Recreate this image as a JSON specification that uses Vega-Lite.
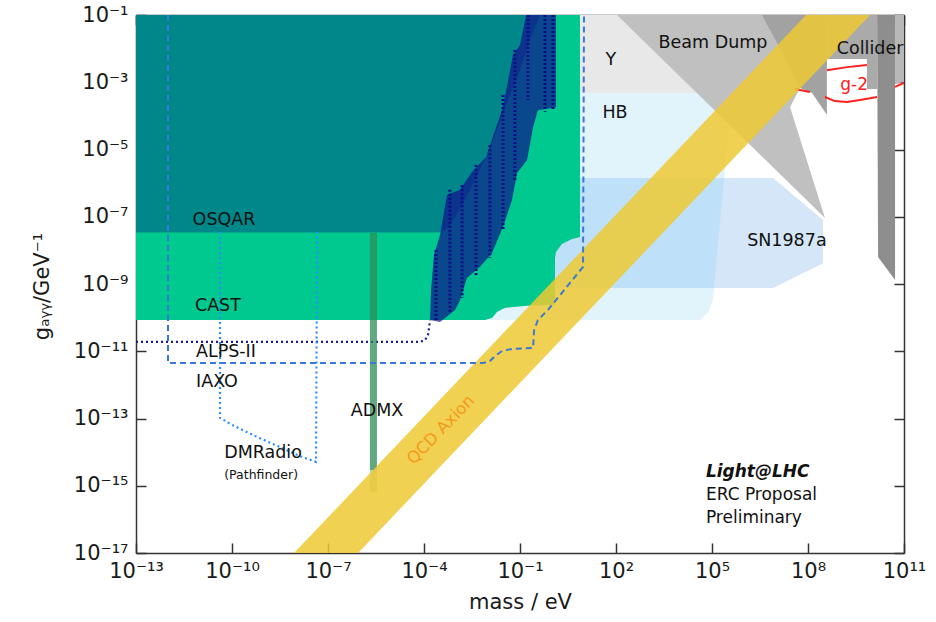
{
  "$schema": "https://vega.github.io/schema/vega-lite/v6.json",
  "width": 768,
  "height": 538,
  "autosize": {"type": "none"},
  "padding": {"left": 136, "top": 15, "right": 32, "bottom": 69},
  "background": "white",
  "config": {
    "view": {"stroke": null},
    "font": "DejaVu Sans",
    "axis": {
      "grid": false,
      "zindex": 1,
      "domainColor": "#333333",
      "domainWidth": 1.5,
      "tickColor": "#333333",
      "tickWidth": 1.5,
      "tickSize": -10,
      "labelFont": "DejaVu Sans",
      "labelFontSize": 21,
      "labelColor": "#1a1a1a",
      "titleFont": "DejaVu Sans",
      "titleFontSize": 21,
      "titleFontWeight": "normal",
      "titleColor": "#1a1a1a",
      "labelFlush": false,
      "labelOverlap": false,
      "labelBound": false
    }
  },
  "datasets": {
    "shapes": [
      {"s": "HB", "m": -1.94, "g": -3.32}, {"s": "HB", "m": 5.63, "g": -3.32}, {"s": "HB", "m": 5.03, "g": -9.48}, {"s": "HB", "m": 4.88, "g": -9.83}, {"s": "HB", "m": 4.63, "g": -10.07}, {"s": "HB", "m": -1.94, "g": -10.07},
      {"s": "Y", "m": 0.56, "g": -1}, {"s": "Y", "m": 6.5, "g": -1}, {"s": "Y", "m": 6.5, "g": -3.32}, {"s": "Y", "m": 0.56, "g": -3.32},
      {"s": "SN", "m": -0.22, "g": -5.85}, {"s": "SN", "m": 6.91, "g": -5.85}, {"s": "SN", "m": 8.47, "g": -7.1}, {"s": "SN", "m": 8.47, "g": -8.38}, {"s": "SN", "m": 6.91, "g": -9.12}, {"s": "SN", "m": -0.22, "g": -9.12},
      {"s": "SNHB", "m": -0.22, "g": -5.85}, {"s": "SNHB", "m": 5.375, "g": -5.85}, {"s": "SNHB", "m": 5.06, "g": -9.12}, {"s": "SNHB", "m": -0.22, "g": -9.12},
      {"s": "CAST", "m": -13, "g": -1}, {"s": "CAST", "m": 0.875, "g": -1}, {"s": "CAST", "m": 0.875, "g": -7.6}, {"s": "CAST", "m": 0.625, "g": -7.66}, {"s": "CAST", "m": 0.31, "g": -7.81}, {"s": "CAST", "m": 0.125, "g": -8.05}, {"s": "CAST", "m": 0.094, "g": -8.23}, {"s": "CAST", "m": 0.094, "g": -9.62}, {"s": "CAST", "m": -0.78, "g": -9.65}, {"s": "CAST", "m": -1.47, "g": -9.71}, {"s": "CAST", "m": -1.72, "g": -9.83}, {"s": "CAST", "m": -1.875, "g": -10.01}, {"s": "CAST", "m": -2.09, "g": -10.07}, {"s": "CAST", "m": -13, "g": -10.07},
      {"s": "OSQAR", "m": -13, "g": -1}, {"s": "OSQAR", "m": -0.375, "g": -1}, {"s": "OSQAR", "m": -0.69, "g": -1.74}, {"s": "OSQAR", "m": -1.0, "g": -2.64}, {"s": "OSQAR", "m": -1.375, "g": -3.53}, {"s": "OSQAR", "m": -1.72, "g": -4.42}, {"s": "OSQAR", "m": -2.03, "g": -5.16}, {"s": "OSQAR", "m": -2.41, "g": -5.91}, {"s": "OSQAR", "m": -2.81, "g": -6.65}, {"s": "OSQAR", "m": -3.125, "g": -7.16}, {"s": "OSQAR", "m": -3.31, "g": -7.37}, {"s": "OSQAR", "m": -3.5, "g": -7.47}, {"s": "OSQAR", "m": -13, "g": -7.47},
      {"s": "HALO", "m": -3.81, "g": -10.07}, {"s": "HALO", "m": -3.78, "g": -9.18}, {"s": "HALO", "m": -3.69, "g": -8.14}, {"s": "HALO", "m": -3.5, "g": -7.54}, {"s": "HALO", "m": -3.28, "g": -6.35}, {"s": "HALO", "m": -2.875, "g": -6.2}, {"s": "HALO", "m": -2.5, "g": -5.67}, {"s": "HALO", "m": -2.06, "g": -5.22}, {"s": "HALO", "m": -1.81, "g": -4.51}, {"s": "HALO", "m": -1.56, "g": -3.83}, {"s": "HALO", "m": -1.41, "g": -3.14}, {"s": "HALO", "m": -1.22, "g": -2.19}, {"s": "HALO", "m": -1.0, "g": -1.89}, {"s": "HALO", "m": -0.81, "g": -1}, {"s": "HALO", "m": 0.125, "g": -1}, {"s": "HALO", "m": 0.125, "g": -3.74}, {"s": "HALO", "m": -0.44, "g": -3.83}, {"s": "HALO", "m": -0.59, "g": -4.33}, {"s": "HALO", "m": -0.78, "g": -5.31}, {"s": "HALO", "m": -1.09, "g": -5.7}, {"s": "HALO", "m": -1.25, "g": -6.5}, {"s": "HALO", "m": -1.53, "g": -7.3}, {"s": "HALO", "m": -1.875, "g": -8.08}, {"s": "HALO", "m": -2.25, "g": -8.49}, {"s": "HALO", "m": -2.66, "g": -8.82}, {"s": "HALO", "m": -2.875, "g": -9.48}, {"s": "HALO", "m": -3.03, "g": -9.77}, {"s": "HALO", "m": -3.5, "g": -10.13},
      {"s": "BD1", "m": 2.03, "g": -1}, {"s": "BD1", "m": 7.75, "g": -1}, {"s": "BD1", "m": 7.75, "g": -3.17}, {"s": "BD1", "m": 7.44, "g": -3.74}, {"s": "BD1", "m": 8.53, "g": -7.04},
      {"s": "BD2", "m": 6.56, "g": -1}, {"s": "BD2", "m": 8.59, "g": -1}, {"s": "BD2", "m": 8.59, "g": -3.97}, {"s": "BD2", "m": 8.125, "g": -3.32}, {"s": "BD2", "m": 7.75, "g": -3.17}, {"s": "BD2", "m": 7.19, "g": -2.1},
      {"s": "COLL", "m": 8.59, "g": -1}, {"s": "COLL", "m": 10.16, "g": -1}, {"s": "COLL", "m": 10.16, "g": -3.2}, {"s": "COLL", "m": 9.84, "g": -3.2}, {"s": "COLL", "m": 9.84, "g": -2.31}, {"s": "COLL", "m": 8.59, "g": -2.31},
      {"s": "DARK", "m": 10.16, "g": -1}, {"s": "DARK", "m": 10.72, "g": -1}, {"s": "DARK", "m": 10.72, "g": -8.88}, {"s": "DARK", "m": 10.19, "g": -8.2},
      {"s": "STRIP", "m": 10.72, "g": -1}, {"s": "STRIP", "m": 11, "g": -1}, {"s": "STRIP", "m": 11, "g": -2.99}, {"s": "STRIP", "m": 10.72, "g": -3.05}
    ],
    "curves": [
      {"c": "IAXO", "m": -12, "g": -1}, {"c": "IAXO", "m": -12, "g": -11.35}, {"c": "IAXO", "m": -2.16, "g": -11.35}, {"c": "IAXO", "m": -1.94, "g": -11.29}, {"c": "IAXO", "m": -1.78, "g": -11.14}, {"c": "IAXO", "m": -1.56, "g": -10.99}, {"c": "IAXO", "m": -1.25, "g": -10.93}, {"c": "IAXO", "m": -0.59, "g": -10.9}, {"c": "IAXO", "m": -0.56, "g": -10.37}, {"c": "IAXO", "m": -0.44, "g": -10.07}, {"c": "IAXO", "m": -0.125, "g": -9.77}, {"c": "IAXO", "m": 0.97, "g": -8.49}, {"c": "IAXO", "m": 1.0, "g": -1},
      {"c": "DMRadio", "m": -10.375, "g": -7.45}, {"c": "DMRadio", "m": -10.375, "g": -12.98}, {"c": "DMRadio", "m": -10, "g": -13.19}, {"c": "DMRadio", "m": -9.28, "g": -13.52}, {"c": "DMRadio", "m": -8.5, "g": -13.85}, {"c": "DMRadio", "m": -7.875, "g": -14.12}, {"c": "DMRadio", "m": -7.375, "g": -14.29}, {"c": "DMRadio", "m": -7.34, "g": -7.45},
      {"c": "Baby", "m": -13, "g": -10.72}, {"c": "Baby", "m": -4.125, "g": -10.72}, {"c": "Baby", "m": -3.97, "g": -10.67}, {"c": "Baby", "m": -3.875, "g": -10.52}, {"c": "Baby", "m": -3.81, "g": -10.07},
      {"c": "g2a", "m": 8.59, "g": -2.64}, {"c": "g2a", "m": 9.22, "g": -2.55}, {"c": "g2a", "m": 9.84, "g": -2.49},
      {"c": "g2b", "m": 8.53, "g": -3.44}, {"c": "g2b", "m": 8.84, "g": -3.56}, {"c": "g2b", "m": 9.22, "g": -3.59}, {"c": "g2b", "m": 9.625, "g": -3.53}, {"c": "g2b", "m": 10.16, "g": -3.44},
      {"c": "g2c", "m": 7.59, "g": -3.2}, {"c": "g2c", "m": 8.06, "g": -3.29},
      {"c": "g2d", "m": 10.72, "g": -3.14}, {"c": "g2d", "m": 11, "g": -3.02}
    ],
    "halo": [
      {"id": "h1", "m": -3.625, "g": -7.99}, {"id": "h1", "m": -3.625, "g": -10.13},
      {"id": "h2", "m": -3.19, "g": -6.2}, {"id": "h2", "m": -3.19, "g": -9.83},
      {"id": "h3", "m": -2.81, "g": -6.06}, {"id": "h3", "m": -2.81, "g": -9.42},
      {"id": "h4", "m": -2.375, "g": -5.46}, {"id": "h4", "m": -2.375, "g": -8.73},
      {"id": "h5", "m": -1.94, "g": -4.87}, {"id": "h5", "m": -1.94, "g": -8.23},
      {"id": "h6", "m": -1.53, "g": -3.38}, {"id": "h6", "m": -1.53, "g": -7.39},
      {"id": "h7", "m": -1.16, "g": -2.04}, {"id": "h7", "m": -1.16, "g": -5.91},
      {"id": "h8", "m": -0.75, "g": -1}, {"id": "h8", "m": -0.75, "g": -3.53},
      {"id": "h9", "m": -0.22, "g": -1}, {"id": "h9", "m": -0.22, "g": -3.88},
      {"id": "h10", "m": 0.03, "g": -1}, {"id": "h10", "m": 0.03, "g": -3.83}
    ],
    "qcd": [
      {"m": -9, "lo": -19.94, "hi": -17.94},
      {"m": 12, "lo": 1.06, "hi": 3.06}
    ],
    "admx": [
      {"part": "main", "m1": -5.69, "m2": -5.47, "g1": -7.48, "g2": -14.53},
      {"part": "tail", "m1": -5.69, "m2": -5.47, "g1": -14.53, "g2": -15.19}
    ],
    "labels": [
      {"k": "main", "t": "OSQAR", "m": -10.25, "g": -7.1},
      {"k": "main", "t": "CAST", "m": -10.44, "g": -9.65},
      {"k": "main", "t": "ALPS-II", "m": -10.19, "g": -11.02},
      {"k": "main", "t": "IAXO", "m": -10.47, "g": -11.91},
      {"k": "main", "t": "ADMX", "m": -5.47, "g": -12.78},
      {"k": "main", "t": "DMRadio", "m": -9.03, "g": -14.03},
      {"k": "main", "t": "Y", "m": 1.84, "g": -2.34},
      {"k": "main", "t": "HB", "m": 1.97, "g": -3.91},
      {"k": "main", "t": "Beam Dump", "m": 5.03, "g": -1.83},
      {"k": "main", "t": "SN1987a", "m": 7.34, "g": -7.72},
      {"k": "main", "t": "Collider", "m": 9.94, "g": -2.01},
      {"k": "small", "t": "(Pathfinder)", "m": -9.09, "g": -14.68},
      {"k": "qcd", "t": "QCD Axion", "m": -3.47, "g": -13.34},
      {"k": "g2", "t": "g-2", "m": 9.44, "g": -3.08},
      {"k": "brand", "t": "Light@LHC", "m": 4.81, "g": -14.59},
      {"k": "note", "t": "ERC Proposal", "m": 4.81, "g": -15.27},
      {"k": "note", "t": "Preliminary", "m": 4.81, "g": -15.96}
    ]
  },
  "resolve": {"axis": {"x": "independent", "y": "independent"}},
  "layer": [
    {
      "data": {"name": "shapes"},
      "transform": [{"filter": "datum.s === 'HB'"}],
      "mark": {"type": "line", "filled": true, "fill": "#e2f4fb", "strokeWidth": 0, "clip": true},
      "encoding": {
        "x": {"field": "m", "type": "quantitative", "scale": {"domain": [-13, 11], "nice": false, "zero": false},
          "axis": {"orient": "bottom", "values": [-13, -10, -7, -4, -1, 2, 5, 8, 11], "labelPadding": 17, "labelBaseline": "top",
            "labelExpr": "datum.value == -13 ? '10⁻¹³' : datum.value == -10 ? '10⁻¹⁰' : datum.value == -7 ? '10⁻⁷' : datum.value == -4 ? '10⁻⁴' : datum.value == -1 ? '10⁻¹' : datum.value == 2 ? '10²' : datum.value == 5 ? '10⁵' : datum.value == 8 ? '10⁸' : '10¹¹'",
            "title": "mass / eV", "titleY": 55, "titleBaseline": "alphabetic"}},
        "y": {"field": "g", "type": "quantitative", "scale": {"domain": [-17, -1], "nice": false, "zero": false},
          "axis": {"orient": "left", "values": [-17, -15, -13, -11, -9, -7, -5, -3, -1], "labelPadding": 18,
            "labelExpr": "datum.value == -17 ? '10⁻¹⁷' : datum.value == -15 ? '10⁻¹⁵' : datum.value == -13 ? '10⁻¹³' : datum.value == -11 ? '10⁻¹¹' : datum.value == -9 ? '10⁻⁹' : datum.value == -7 ? '10⁻⁷' : datum.value == -5 ? '10⁻⁵' : datum.value == -3 ? '10⁻³' : '10⁻¹'",
            "title": "gₐᵧᵧ/GeV⁻¹", "titleX": -88, "titleY": 271, "titleAngle": 270, "titleBaseline": "alphabetic", "titleAlign": "center"}},
        "order": {"value": null}
      }
    },
    {
      "data": {"name": "shapes"},
      "transform": [{"filter": "datum.s === 'Y'"}],
      "mark": {"type": "line", "filled": true, "fill": "#e8e8e8", "strokeWidth": 0, "clip": true},
      "encoding": {
        "x": {"field": "m", "type": "quantitative", "scale": {"domain": [-13, 11], "nice": false, "zero": false},
          "axis": {"orient": "top", "values": [-13, -10, -7, -4, -1, 2, 5, 8, 11], "labels": false, "title": null}},
        "y": {"field": "g", "type": "quantitative", "scale": {"domain": [-17, -1], "nice": false, "zero": false},
          "axis": {"orient": "right", "values": [-17, -15, -13, -11, -9, -7, -5, -3, -1], "labels": false, "title": null}},
        "order": {"value": null}
      }
    },
    {
      "data": {"name": "shapes"},
      "transform": [{"filter": "datum.s === 'SN'"}],
      "mark": {"type": "line", "filled": true, "fill": "#d4e6f8", "strokeWidth": 0, "clip": true},
      "encoding": {"x": {"field": "m", "type": "quantitative", "axis": null}, "y": {"field": "g", "type": "quantitative", "axis": null}, "order": {"value": null}}
    },
    {
      "data": {"name": "shapes"},
      "transform": [{"filter": "datum.s === 'SNHB'"}],
      "mark": {"type": "line", "filled": true, "fill": "#bee0f8", "strokeWidth": 0, "clip": true},
      "encoding": {"x": {"field": "m", "type": "quantitative", "axis": null}, "y": {"field": "g", "type": "quantitative", "axis": null}, "order": {"value": null}}
    },
    {
      "data": {"name": "shapes"},
      "transform": [{"filter": "datum.s === 'CAST'"}],
      "mark": {"type": "line", "filled": true, "fill": "#00c98f", "strokeWidth": 0, "clip": true},
      "encoding": {"x": {"field": "m", "type": "quantitative", "axis": null}, "y": {"field": "g", "type": "quantitative", "axis": null}, "order": {"value": null}}
    },
    {
      "data": {"name": "shapes"},
      "transform": [{"filter": "datum.s === 'OSQAR'"}],
      "mark": {"type": "line", "filled": true, "fill": "#00878a", "strokeWidth": 0, "clip": true},
      "encoding": {"x": {"field": "m", "type": "quantitative", "axis": null}, "y": {"field": "g", "type": "quantitative", "axis": null}, "order": {"value": null}}
    },
    {
      "data": {"name": "shapes"},
      "transform": [{"filter": "datum.s === 'HALO'"}],
      "mark": {"type": "line", "filled": true, "fill": "#10108c", "fillOpacity": 0.7, "strokeWidth": 0, "clip": true},
      "encoding": {"x": {"field": "m", "type": "quantitative", "axis": null}, "y": {"field": "g", "type": "quantitative", "axis": null}, "order": {"value": null}}
    },
    {
      "data": {"name": "halo"},
      "mark": {"type": "line", "stroke": "#0d0d8a", "strokeWidth": 3, "strokeDash": [2, 2], "clip": true},
      "encoding": {"x": {"field": "m", "type": "quantitative", "axis": null}, "y": {"field": "g", "type": "quantitative", "axis": null}, "detail": {"field": "id"}, "order": {"value": null}}
    },
    {
      "data": {"name": "curves"},
      "transform": [{"filter": "datum.c === 'Baby'"}],
      "mark": {"type": "line", "stroke": "#1a1a9a", "strokeWidth": 2.2, "strokeDash": [2, 3], "clip": true},
      "encoding": {"x": {"field": "m", "type": "quantitative", "axis": null}, "y": {"field": "g", "type": "quantitative", "axis": null}, "order": {"value": null}}
    },
    {
      "data": {"name": "admx"},
      "transform": [{"filter": "datum.part === 'main'"}],
      "mark": {"type": "rect", "fill": "#2e8b57", "fillOpacity": 0.75, "clip": true},
      "encoding": {"x": {"field": "m1", "type": "quantitative", "axis": null}, "x2": {"field": "m2"}, "y": {"field": "g1", "type": "quantitative", "axis": null}, "y2": {"field": "g2"}}
    },
    {
      "data": {"name": "admx"},
      "transform": [{"filter": "datum.part === 'tail'"}],
      "mark": {"type": "rect", "fill": "#2e8b57", "fillOpacity": 0.35, "clip": true},
      "encoding": {"x": {"field": "m1", "type": "quantitative", "axis": null}, "x2": {"field": "m2"}, "y": {"field": "g1", "type": "quantitative", "axis": null}, "y2": {"field": "g2"}}
    },
    {
      "data": {"name": "shapes"},
      "transform": [{"filter": "datum.s === 'BD1'"}],
      "mark": {"type": "line", "filled": true, "fill": "#c0c0c0", "strokeWidth": 0, "clip": true},
      "encoding": {"x": {"field": "m", "type": "quantitative", "axis": null}, "y": {"field": "g", "type": "quantitative", "axis": null}, "order": {"value": null}}
    },
    {
      "data": {"name": "shapes"},
      "transform": [{"filter": "datum.s === 'BD2'"}],
      "mark": {"type": "line", "filled": true, "fill": "#a2a2a2", "strokeWidth": 0, "clip": true},
      "encoding": {"x": {"field": "m", "type": "quantitative", "axis": null}, "y": {"field": "g", "type": "quantitative", "axis": null}, "order": {"value": null}}
    },
    {
      "data": {"name": "shapes"},
      "transform": [{"filter": "datum.s === 'COLL'"}],
      "mark": {"type": "line", "filled": true, "fill": "#aaaaaa", "strokeWidth": 0, "clip": true},
      "encoding": {"x": {"field": "m", "type": "quantitative", "axis": null}, "y": {"field": "g", "type": "quantitative", "axis": null}, "order": {"value": null}}
    },
    {
      "data": {"name": "shapes"},
      "transform": [{"filter": "datum.s === 'DARK'"}],
      "mark": {"type": "line", "filled": true, "fill": "#8e8e8e", "strokeWidth": 0, "clip": true},
      "encoding": {"x": {"field": "m", "type": "quantitative", "axis": null}, "y": {"field": "g", "type": "quantitative", "axis": null}, "order": {"value": null}}
    },
    {
      "data": {"name": "shapes"},
      "transform": [{"filter": "datum.s === 'STRIP'"}],
      "mark": {"type": "line", "filled": true, "fill": "#b8b8b8", "strokeWidth": 0, "clip": true},
      "encoding": {"x": {"field": "m", "type": "quantitative", "axis": null}, "y": {"field": "g", "type": "quantitative", "axis": null}, "order": {"value": null}}
    },
    {
      "data": {"name": "curves"},
      "transform": [{"filter": "indexof(datum.c, 'g2') === 0"}],
      "mark": {"type": "line", "stroke": "#ff2020", "strokeWidth": 2, "clip": true},
      "encoding": {"x": {"field": "m", "type": "quantitative", "axis": null}, "y": {"field": "g", "type": "quantitative", "axis": null}, "detail": {"field": "c"}, "order": {"value": null}}
    },
    {
      "data": {"name": "qcd"},
      "mark": {"type": "area", "fill": "#efc932", "fillOpacity": 0.85, "clip": true},
      "encoding": {"x": {"field": "m", "type": "quantitative", "axis": null}, "y": {"field": "lo", "type": "quantitative", "axis": null}, "y2": {"field": "hi"}}
    },
    {
      "data": {"name": "curves"},
      "transform": [{"filter": "datum.c === 'IAXO'"}],
      "mark": {"type": "line", "stroke": "#3a78d8", "strokeWidth": 2, "strokeDash": [6, 4], "clip": true},
      "encoding": {"x": {"field": "m", "type": "quantitative", "axis": null}, "y": {"field": "g", "type": "quantitative", "axis": null}, "order": {"value": null}}
    },
    {
      "data": {"name": "curves"},
      "transform": [{"filter": "datum.c === 'DMRadio'"}],
      "mark": {"type": "line", "stroke": "#2f8cff", "strokeWidth": 2.2, "strokeDash": [2, 3], "clip": true},
      "encoding": {"x": {"field": "m", "type": "quantitative", "axis": null}, "y": {"field": "g", "type": "quantitative", "axis": null}, "order": {"value": null}}
    },
    {
      "data": {"name": "labels"},
      "transform": [{"filter": "datum.k === 'main'"}],
      "mark": {"type": "text", "font": "DejaVu Sans", "fontSize": 17.5, "color": "#111111", "align": "center", "baseline": "middle"},
      "encoding": {"x": {"field": "m", "type": "quantitative", "axis": null}, "y": {"field": "g", "type": "quantitative", "axis": null}, "text": {"field": "t"}}
    },
    {
      "data": {"name": "labels"},
      "transform": [{"filter": "datum.k === 'small'"}],
      "mark": {"type": "text", "font": "DejaVu Sans", "fontSize": 12.5, "color": "#111111", "align": "center", "baseline": "middle"},
      "encoding": {"x": {"field": "m", "type": "quantitative", "axis": null}, "y": {"field": "g", "type": "quantitative", "axis": null}, "text": {"field": "t"}}
    },
    {
      "data": {"name": "labels"},
      "transform": [{"filter": "datum.k === 'qcd'"}],
      "mark": {"type": "text", "font": "DejaVu Sans", "fontSize": 16.5, "color": "#f59a1c", "align": "center", "baseline": "middle", "angle": 314},
      "encoding": {"x": {"field": "m", "type": "quantitative", "axis": null}, "y": {"field": "g", "type": "quantitative", "axis": null}, "text": {"field": "t"}}
    },
    {
      "data": {"name": "labels"},
      "transform": [{"filter": "datum.k === 'g2'"}],
      "mark": {"type": "text", "font": "DejaVu Sans", "fontSize": 17, "color": "#ff2020", "align": "center", "baseline": "middle"},
      "encoding": {"x": {"field": "m", "type": "quantitative", "axis": null}, "y": {"field": "g", "type": "quantitative", "axis": null}, "text": {"field": "t"}}
    },
    {
      "data": {"name": "labels"},
      "transform": [{"filter": "datum.k === 'brand'"}],
      "mark": {"type": "text", "font": "DejaVu Sans", "fontSize": 17, "fontWeight": "bold", "fontStyle": "italic", "color": "#111111", "align": "left", "baseline": "middle"},
      "encoding": {"x": {"field": "m", "type": "quantitative", "axis": null}, "y": {"field": "g", "type": "quantitative", "axis": null}, "text": {"field": "t"}}
    },
    {
      "data": {"name": "labels"},
      "transform": [{"filter": "datum.k === 'note'"}],
      "mark": {"type": "text", "font": "DejaVu Sans", "fontSize": 17, "color": "#111111", "align": "left", "baseline": "middle"},
      "encoding": {"x": {"field": "m", "type": "quantitative", "axis": null}, "y": {"field": "g", "type": "quantitative", "axis": null}, "text": {"field": "t"}}
    }
  ]
}
